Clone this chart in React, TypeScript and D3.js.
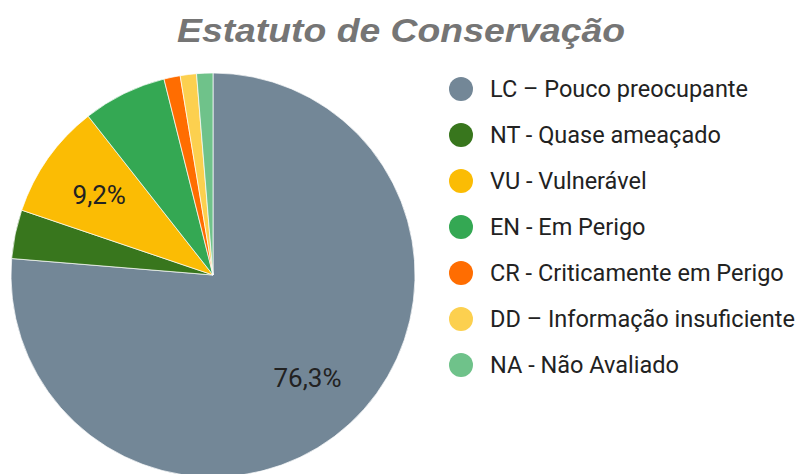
import React from "react";
import * as d3 from "d3";

const categories = [
  "LC – Pouco preocupante",
  "NT - Quase ameaçado",
  "VU - Vulnerável",
  "EN - Em Perigo",
  "CR - Criticamente em Perigo",
  "DD – Informação insuficiente",
  "NA - Não Avaliado",
];
const values = [76.3, 3.9, 9.2, 6.7, 1.3, 1.3, 1.3];
const colors = ["#738797", "#38761d", "#fbbc04", "#34a853", "#ff6d01", "#fcd04f", "#6fc28a"];
const sliceLabels = ["76,3%", "", "9,2%", "", "", "", ""];

const W = 796;
const H = 474;

export default function App() {
  const cx = 213;
  const cy = 275;
  const r = 202;
  const pie = d3.pie<number>().sort(null).value((d) => d)(values);
  const arc = d3.arc<d3.PieArcDatum<number>>().innerRadius(0).outerRadius(r);
  const labelArc = d3.arc<d3.PieArcDatum<number>>().innerRadius(r * 0.69).outerRadius(r * 0.69);
  const legendY = d3.scalePoint<number>().domain(d3.range(categories.length)).range([89, 365]);

  return (
    <svg width={W} height={H} style={{ position: "absolute", left: 0, top: 0, background: "#fff" }}>
      <text
        x={177}
        y={42}
        textLength={448}
        lengthAdjust="spacingAndGlyphs"
        fontFamily="'Liberation Sans', Arial, sans-serif"
        fontWeight="bold"
        fontStyle="italic"
        fontSize={33}
        fill="#757575"
      >
        Estatuto de Conservação
      </text>
      <g transform={`translate(${cx},${cy})`}>
        {pie.map((p, i) => (
          <path key={i} d={arc(p) || ""} fill={colors[i]} stroke="#fff" strokeWidth={0.7} />
        ))}
        {pie.map((p, i) => {
          if (!sliceLabels[i]) return null;
          const [lx, ly] = labelArc.centroid(p);
          return (
            <text
              key={"l" + i}
              x={lx}
              y={ly}
              dy="0.35em"
              textAnchor="middle"
              fontFamily="Roboto, Arial, sans-serif"
              fontSize={26}
              fill="#222"
            >
              {sliceLabels[i]}
            </text>
          );
        })}
      </g>
      <g>
        {categories.map((c, i) => (
          <g key={c} transform={`translate(0,${legendY(i)})`}>
            <circle cx={461} cy={0} r={12} fill={colors[i]} />
            <text
              x={490}
              y={0}
              dy="0.35em"
              fontFamily="Roboto, Arial, sans-serif"
              fontSize={23.5}
              fill="#222"
            >
              {c}
            </text>
          </g>
        ))}
      </g>
    </svg>
  );
}
